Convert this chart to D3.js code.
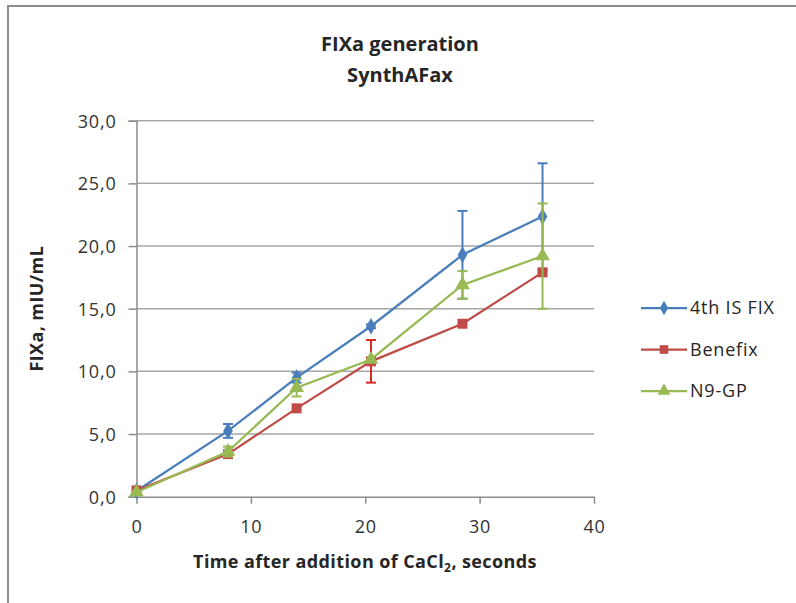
<!DOCTYPE html>
<html>
<head>
<meta charset="utf-8">
<script src="https://cdn.jsdelivr.net/npm/d3@7"></script>
<style>
  body { margin: 0; background: #fff; }
  svg text { font-family: "Open Sans", "Liberation Sans", sans-serif; fill: #262626; }
  .title { font-weight: bold; font-size: 20px; }
  .axis-title { font-weight: bold; font-size: 18px; letter-spacing: 0.4px; }
  .tick-label { font-size: 18px; fill: #333; letter-spacing: 0.8px; }
  .legend-label { font-size: 18px; letter-spacing: 0.8px; }
</style>
</head>
<body>
<div id="chart"></div>
<script>
'use strict';

// time after CaCl2, seconds
var times = [0, 8, 14, 20.5, 28.5, 35.5];

var seriesNames = ['4th IS FIX', 'Benefix', 'N9-GP'];
var fix4Values   = [0.45, 5.25, 9.5, 13.6, 19.3, 22.35];
var fix4Errors   = [0, 0.55, 0.4, 0.15, 3.5, 4.25];
var benefixValues = [0.5, 3.4, 7.05, 10.8, 13.8, 17.9];
var benefixErrors = [0, 0, 0, 1.7, 0, 0];
var n9gpValues   = [0.35, 3.6, 8.7, 10.95, 16.9, 19.2];
var n9gpErrors   = [0, 0.4, 0.7, 0, 1.1, 4.2];

var xTicks = [0, 10, 20, 30, 40];
var yTicks = [0, 5, 10, 15, 20, 25, 30];

var width = 796, height = 603;

var svg = d3.select('#chart')
    .append('svg')
    .attr('width', width)
    .attr('height', height);

// outer chart border (runs off the right and bottom edges)
svg.append('rect')
    .attr('x', 8).attr('y', 6)
    .attr('width', 820).attr('height', 640)
    .attr('fill', '#fff')
    .attr('stroke', '#8c8c8c')
    .attr('stroke-width', 2);

var x = d3.scaleLinear().domain([0, 40]).range([136.5, 594]);
var y = d3.scaleLinear().domain([0, 30]).range([496.7, 120.7]);

// gridlines
svg.append('g')
    .selectAll('line')
    .data(yTicks.filter(function (d) { return d > 0; }))
    .enter().append('line')
    .attr('x1', x(0)).attr('x2', x(40))
    .attr('y1', function (d) { return y(d); })
    .attr('y2', function (d) { return y(d); })
    .attr('stroke', '#a6a6a6')
    .attr('stroke-width', 1.5);

// y axis
var yAxis = svg.append('g')
    .attr('transform', 'translate(' + x(0) + ',0)')
    .call(d3.axisLeft(y).tickValues(yTicks).tickSize(8).tickPadding(12)
        .tickFormat(function (d) { return d3.format('.1f')(d).replace('.', ','); }));
yAxis.select('.domain').attr('stroke', '#8c8c8c').attr('stroke-width', 1.5);
yAxis.selectAll('.tick line').attr('stroke', '#8c8c8c').attr('stroke-width', 1.5);
yAxis.selectAll('.tick text').attr('class', 'tick-label').attr('font-size', null).attr('font-family', null).attr('dy', '0.36em');

// x axis
var xAxis = svg.append('g')
    .attr('transform', 'translate(0,' + y(0) + ')')
    .call(d3.axisBottom(x).tickValues(xTicks).tickSize(7).tickPadding(17).tickSizeOuter(0));
xAxis.select('.domain').attr('stroke', '#8c8c8c').attr('stroke-width', 1.5);
xAxis.selectAll('.tick line').attr('stroke', '#8c8c8c').attr('stroke-width', 1.5);
xAxis.selectAll('.tick text').attr('class', 'tick-label').attr('font-size', null).attr('font-family', null);

// series
var series = [
  { name: seriesNames[0], values: fix4Values, errors: fix4Errors, color: '#4a7ebb', errColor: '#4a7ebb', symbol: d3.symbolDiamond, size: 80 },
  { name: seriesNames[1], values: benefixValues, errors: benefixErrors, color: '#be4b48', errColor: '#d42a22', symbol: d3.symbolSquare, size: 100 },
  { name: seriesNames[2], values: n9gpValues, errors: n9gpErrors, color: '#98b954', errColor: '#98b954', symbol: d3.symbolTriangle, size: 95 }
];

var line = d3.line()
    .x(function (d) { return x(d.t); })
    .y(function (d) { return y(d.v); });

series.forEach(function (s) {
  var pts = times.map(function (t, i) { return { t: t, v: s.values[i], e: s.errors[i] }; });
  var g = svg.append('g');

  // error bars
  var eb = g.selectAll('.err')
      .data(pts.filter(function (d) { return d.e > 0; }))
      .enter().append('g')
      .attr('stroke', s.errColor)
      .attr('stroke-width', 2);
  eb.append('line')
      .attr('x1', function (d) { return x(d.t); })
      .attr('x2', function (d) { return x(d.t); })
      .attr('y1', function (d) { return y(d.v - d.e); })
      .attr('y2', function (d) { return y(d.v + d.e); });
  [1, -1].forEach(function (sign) {
    eb.append('line')
        .attr('x1', function (d) { return x(d.t) - 5; })
        .attr('x2', function (d) { return x(d.t) + 5; })
        .attr('y1', function (d) { return y(d.v + sign * d.e); })
        .attr('y2', function (d) { return y(d.v + sign * d.e); });
  });

  g.append('path')
      .datum(pts)
      .attr('fill', 'none')
      .attr('stroke', s.color)
      .attr('stroke-width', 2.25)
      .attr('d', line);

  g.selectAll('.marker')
      .data(pts)
      .enter().append('path')
      .attr('transform', function (d) { return 'translate(' + x(d.t) + ',' + y(d.v) + ')'; })
      .attr('d', d3.symbol().type(s.symbol).size(s.size))
      .attr('fill', s.color);
});

// legend
var legend = svg.append('g');
series.forEach(function (s, i) {
  var ly = 308 + i * 41.5;
  legend.append('line')
      .attr('x1', 641).attr('x2', 687)
      .attr('y1', ly).attr('y2', ly)
      .attr('stroke', s.color)
      .attr('stroke-width', 2.25);
  legend.append('path')
      .attr('transform', 'translate(664,' + ly + ')')
      .attr('d', d3.symbol().type(s.symbol).size(s.size * 0.75))
      .attr('fill', s.color);
  legend.append('text')
      .attr('class', 'legend-label')
      .attr('x', 690).attr('y', ly)
      .attr('dy', '0.36em')
      .text(s.name);
});

// titles
svg.append('text')
    .attr('class', 'title')
    .attr('x', 400).attr('y', 51)
    .attr('text-anchor', 'middle')
    .text('FIXa generation');
svg.append('text')
    .attr('class', 'title')
    .attr('x', 400).attr('y', 82)
    .attr('text-anchor', 'middle')
    .text('SynthAFax');

svg.append('text')
    .attr('class', 'axis-title')
    .attr('transform', 'translate(43,' + y(15) + ') rotate(-90)')
    .attr('text-anchor', 'middle')
    .text('FIXa, mIU/mL');

var xt = svg.append('text')
    .attr('class', 'axis-title')
    .attr('x', 365).attr('y', 568)
    .attr('text-anchor', 'middle');
xt.append('tspan').text('Time after addition of CaCl');
xt.append('tspan').attr('font-size', '12px').attr('dy', 4).text('2');
xt.append('tspan').attr('dy', -4).text(', seconds');
</script>
</body>
</html>
